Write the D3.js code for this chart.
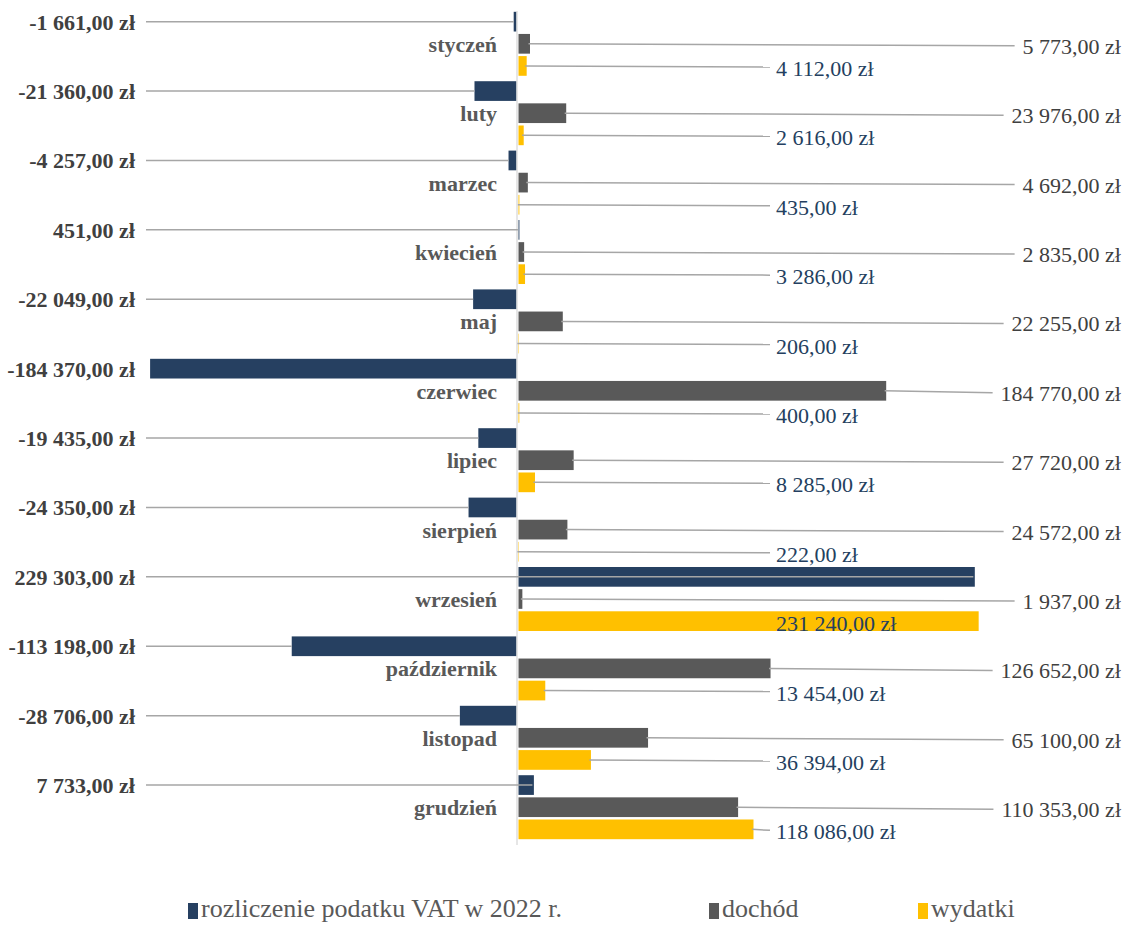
<!DOCTYPE html>
<html>
<head>
<meta charset="utf-8">
<script src="https://cdn.jsdelivr.net/npm/d3@7"></script>
<style>
  html, body { margin: 0; padding: 0; background: #ffffff; }
  svg text { font-family: "Liberation Serif", "Times New Roman", serif; }
</style>
</head>
<body>
<div id="chart"></div>
<script>
// ---- data ----
const months = ["styczeń", "luty", "marzec", "kwiecień", "maj", "czerwiec",
  "lipiec", "sierpień", "wrzesień", "październik", "listopad", "grudzień"];
const seriesNames = ["rozliczenie podatku VAT w 2022 r.", "dochód", "wydatki"];
const vat = [-1661, -21360, -4257, 451, -22049, -184370, -19435, -24350, 229303, -113198, -28706, 7733];
const dochod = [5773, 23976, 4692, 2835, 22255, 184770, 27720, 24572, 1937, 126652, 65100, 110353];
const wydatki = [4112, 2616, 435, 3286, 206, 400, 8285, 222, 231240, 13454, 36394, 118086];

// ---- setup ----
const W = 1131, H = 925;
const colors = ["#264061", "#595959", "#FFC000"];
const FONT = "'Liberation Serif', 'Times New Roman', serif";
const svg = d3.select("#chart").append("svg").attr("width", W).attr("height", H);

const locale = d3.formatLocale({ decimal: ",", thousands: "\u00a0", grouping: [3], currency: ["", " zł"], minus: "-" });
const fmt = locale.format("$,.2f");

const x = d3.scaleLinear().domain([-200000, 250000]).range([119, 1014.5]);
const y0 = d3.scaleBand().domain(months).range([9.1, 841.9]).paddingInner(0.078).paddingOuter(0.039);
const y1 = d3.scaleBand().domain(d3.range(3)).range([0, y0.bandwidth()]).paddingInner(0.11);

const rows = months.map((m, i) => ({ m, vals: [vat[i], dochod[i], wydatki[i]] }));

// axis line at zero
svg.append("line")
  .attr("x1", x(0)).attr("x2", x(0))
  .attr("y1", y0.range()[0] + 2).attr("y2", y0.range()[1] + 3)
  .attr("stroke", "#D9D9D9").attr("stroke-width", 1.3);

const lineCol = "#A6A6A6";
const gBars = svg.append("g");
const gLines = svg.append("g");
const gLabels = svg.append("g");
const FS = 22;

rows.forEach((r, i) => {
  r.vals.forEach((v, s) => {
    const yc = y0(r.m) + y1(s) + y1.bandwidth() / 2;
    const x0 = x(0), xv = x(v);
    gBars.append("rect")
      .attr("x", v >= 0 ? x0 + 1.5 : xv)
      .attr("y", y0(r.m) + y1(s))
      .attr("width", Math.max(Math.abs(xv - x0) - (v >= 0 ? 0 : 0.8), 0))
      .attr("height", y1.bandwidth())
      .attr("fill", colors[s]);

    if (s === 0) {
      const lx = 135;
      gLabels.append("text")
        .attr("x", lx).attr("y", yc + 8)
        .attr("text-anchor", "end")
        .attr("font-family", FONT)
        .attr("font-size", FS).attr("font-weight", "bold")
        .attr("fill", "#404040")
        .text(fmt(v));
      if (Math.abs(xv - (lx + 12)) > 6) {
        gLines.append("line")
          .attr("x1", lx + 11).attr("y1", yc)
          .attr("x2", xv).attr("y2", yc)
          .attr("stroke", lineCol).attr("stroke-width", 1.5);
      }
    } else if (s === 1) {
      const t = gLabels.append("text")
        .attr("x", 1121).attr("y", yc + 10)
        .attr("text-anchor", "end")
        .attr("font-family", FONT)
        .attr("font-size", FS)
        .attr("fill", "#404040")
        .text(fmt(v));
      const w = t.node().getComputedTextLength();
      gLines.append("line")
        .attr("x1", xv).attr("y1", yc)
        .attr("x2", 1121 - w - 8).attr("y2", yc + 2)
        .attr("stroke", lineCol).attr("stroke-width", 1.5);
    } else {
      const inside = xv > 760;
      const lx = 776;
      gLabels.append("text")
        .attr("x", lx).attr("y", yc + 10)
        .attr("text-anchor", "start")
        .attr("font-family", FONT)
        .attr("font-size", FS)
        .attr("fill", "#243F60")
        .text(fmt(v));
      if (!inside) {
        gLines.append("line")
          .attr("x1", xv).attr("y1", yc)
          .attr("x2", lx - 6).attr("y2", yc + 1)
          .attr("stroke", lineCol).attr("stroke-width", 1.5);
      }
    }
  });
  // category label
  gLabels.append("text")
    .attr("x", 497)
    .attr("y", y0(r.m) + y1(1) + y1.bandwidth() / 2 + 8)
    .attr("text-anchor", "end")
    .attr("font-family", FONT)
    .attr("font-size", FS).attr("font-weight", "bold")
    .attr("fill", "#595959")
    .text(r.m);
});

// legend
const legendX = [188, 709, 918];
const leg = svg.append("g");
seriesNames.forEach((n, s) => {
  leg.append("rect").attr("x", legendX[s]).attr("y", 903).attr("width", 10).attr("height", 16).attr("fill", colors[s]);
  leg.append("text").attr("x", legendX[s] + 13).attr("y", 917)
    .attr("font-family", FONT)
    .attr("font-size", 26).attr("fill", "#595959").text(n);
});
</script>
</body>
</html>
